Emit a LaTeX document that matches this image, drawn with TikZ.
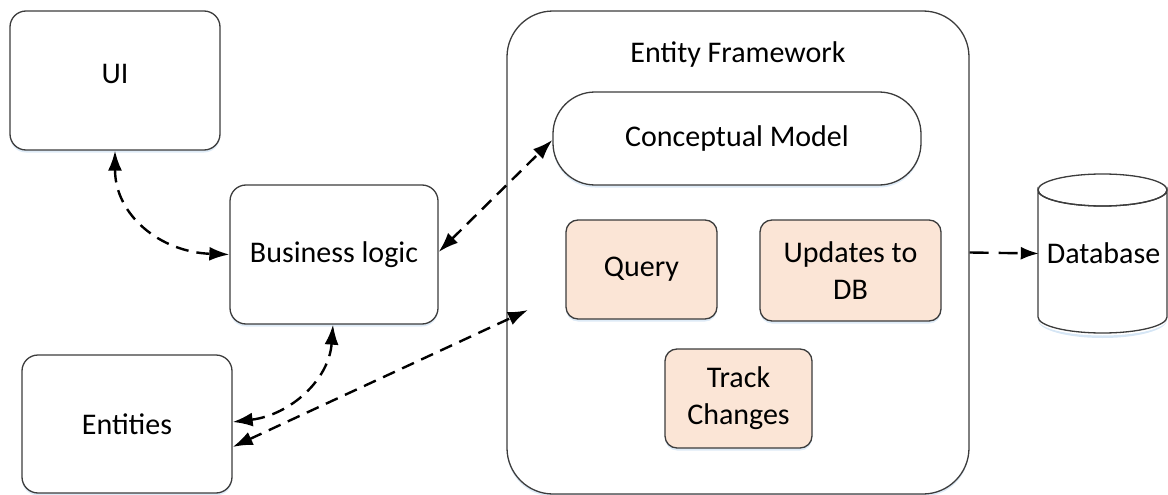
\documentclass[tikz,border=0pt]{standalone}
\usepackage{fontspec}
\setmainfont{Carlito}
\usetikzlibrary{arrows.meta,shadows}
\definecolor{edgec}{HTML}{3C3C3C}
\definecolor{peach}{HTML}{FBE5D6}
\definecolor{glow}{HTML}{D6E6F5}
\begin{document}
\begin{tikzpicture}[x=1pt,y=-1pt,
  box/.style={draw=edgec,line width=1.3pt,fill=white,rounded corners=16pt,align=center,
    font=\fontsize{30}{37}\selectfont,inner sep=0pt,
    drop shadow={shadow xshift=0pt,shadow yshift=-2.5pt,fill=glow,opacity=0.8}},
  innerbox/.style={box,fill=peach,rounded corners=12pt},
  lbl/.style={font=\fontsize{30}{37}\selectfont,inner sep=0pt,align=center},
  conn/.style={line width=2.4pt,dash pattern=on 13pt off 8pt,{Latex[length=20pt,width=14pt]}-{Latex[length=20pt,width=14pt]}},
  oneway/.style={line width=2.4pt,dash pattern=on 19pt off 10pt,-{Latex[length=18pt,width=13pt]}},
]
\useasboundingbox (0,0) rectangle (1168,495);
% left column
\node[box,minimum width=210pt,minimum height=139pt,text depth=14pt] (ui) at (115,80.5) {UI};
\node[box,minimum width=208pt,minimum height=139pt] (bl) at (334,254.5) {Business logic};
\node[box,minimum width=210pt,minimum height=138pt] (ent) at (127,424) {Entities};
% entity framework
\node[box,rounded corners=46pt,minimum width=462pt,minimum height=483pt,drop shadow={opacity=0}] (ef) at (738,252.5) {};
\node[lbl] (eftitle) at (738,55) {Entity Framework};
\node[box,rounded corners=42pt,minimum width=368pt,minimum height=93pt] (cm) at (737,138.5) {Conceptual Model};
\node[innerbox,minimum width=151pt,minimum height=99pt] (query) at (641.5,269.5) {Query};
\node[innerbox,minimum width=181pt,minimum height=101pt] (upd) at (850.5,270.5) {Updates to\\DB};
\node[innerbox,minimum width=147pt,minimum height=99pt] (track) at (738.5,398.5) {Track\\Changes};
% database cylinder
\fill[glow] (1038,320) -- (1038,319.5) arc[start angle=180,end angle=360,x radius=64.5pt,y radius=16pt] -- (1167,320) arc[start angle=360,end angle=180,x radius=64.5pt,y radius=18pt] -- cycle;
\draw[edgec,line width=1.3pt,fill=white] (1038,190) -- (1038,317) arc[start angle=180,end angle=360,x radius=64.5pt,y radius=16pt] -- (1167,190) arc[start angle=0,end angle=-180,x radius=64.5pt,y radius=16pt] -- cycle;
\draw[edgec,line width=1.3pt] (1102.5,190) ellipse[x radius=64.5pt,y radius=16pt];
\node[lbl,minimum width=129pt,minimum height=159pt] (db) at (1103.5,253.5) {\raisebox{-4pt}{Database}};
% connectors
\coordinate (efin) at (528,310);
\draw[conn] (ui.south) .. controls (115,215) and (160,252) .. (bl.west);
\draw[conn] ([yshift=2.5pt]bl.east) -- ([yshift=-1.5pt]cm.west);
\draw[conn] ([xshift=-1pt]bl.south) .. controls (329,380) and (290,415) .. ([yshift=2pt]ent.east);
\draw[conn] ([yshift=-23pt]ent.east) -- (efin);
\draw[oneway] (ef.east) -- (db.west);
\end{tikzpicture}
\end{document}
